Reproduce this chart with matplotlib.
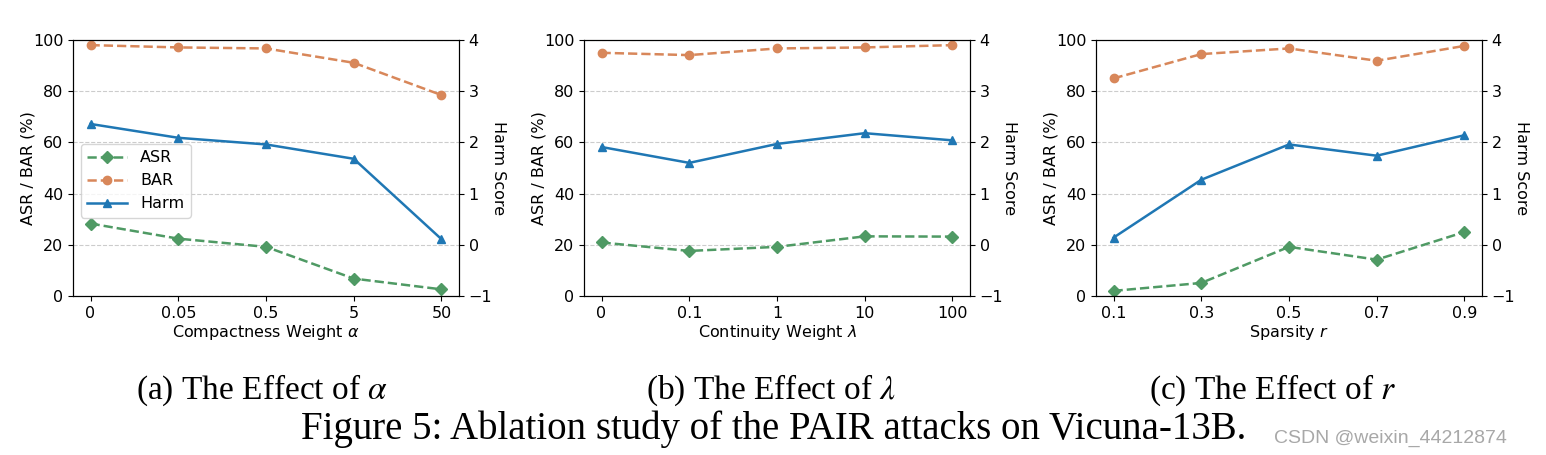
import matplotlib
matplotlib.use("Agg")
import matplotlib.pyplot as plt
import numpy as np

# ---- data ----
xticks_a = ["0", "0.05", "0.5", "5", "50"]
xticks_b = ["0", "0.1", "1", "10", "100"]
xticks_c = ["0.1", "0.3", "0.5", "0.7", "0.9"]

asr_a = [28.3, 22.4, 19.2, 6.8, 2.6]
bar_a = [98.0, 97.1, 96.7, 91.1, 78.5]
harm_a = [2.36, 2.09, 1.96, 1.68, 0.11]

asr_b = [20.9, 17.6, 19.2, 23.3, 23.2]
bar_b = [95.0, 94.1, 96.7, 97.1, 98.0]
harm_b = [1.91, 1.60, 1.97, 2.18, 2.04]

asr_c = [2.0, 5.1, 19.2, 14.2, 25.0]
bar_c = [85.0, 94.5, 96.7, 91.9, 97.7]
harm_c = [0.14, 1.27, 1.96, 1.74, 2.14]

xlabels = [r"Compactness Weight $\alpha$", r"Continuity Weight $\lambda$", r"Sparsity $r$"]
subcaps = [r"(a) The Effect of $\alpha$", r"(b) The Effect of $\lambda$", r"(c) The Effect of $r$"]
caption = "Figure 5: Ablation study of the PAIR attacks on Vicuna-13B."

panels = [
    (xticks_a, asr_a, bar_a, harm_a),
    (xticks_b, asr_b, bar_b, harm_b),
    (xticks_c, asr_c, bar_c, harm_c),
]

c_asr = "#4f9a64"
c_bar = "#d8875a"
c_harm = "#1f77b4"

W, H = 1546, 455
fig = plt.figure(figsize=(W / 100, H / 100), dpi=100)
plt.rcParams["mathtext.fontset"] = "dejavusans"

lefts = [73, 584, 1096]
ax_w = 386
ax_top = 40
ax_bot = 296
cap_centers = [262, 771, 1273]

fs = 11.5
for i, (ticks, asr, bar, harm) in enumerate(panels):
    ax = fig.add_axes([lefts[i] / W, 1 - ax_bot / H, ax_w / W, (ax_bot - ax_top) / H])
    x = np.arange(len(ticks))
    l1, = ax.plot(x, asr, ls="--", marker="D", color=c_asr, lw=1.8, ms=6, label="ASR")
    l2, = ax.plot(x, bar, ls="--", marker="o", color=c_bar, lw=1.8, ms=6, label="BAR")
    ax.set_ylim(0, 100)
    ax.set_yticks([0, 20, 40, 60, 80, 100])
    ax.set_xticks(x)
    ax.set_xticklabels(ticks)
    ax.set_xlim(-0.2, 4.2)
    ax.grid(axis="y", ls="--", color="#cccccc", lw=0.8)
    ax.set_axisbelow(True)
    ax.tick_params(labelsize=fs)
    ax.set_ylabel("ASR / BAR (%)", fontsize=fs, labelpad=-2)
    ax.set_xlabel(xlabels[i], fontsize=fs, labelpad=2)

    ax2 = ax.twinx()
    l3, = ax2.plot(x, harm, ls="-", marker="^", color=c_harm, lw=1.8, ms=6, label="Harm")
    ax2.set_ylim(-1, 4)
    ax2.set_yticks([-1, 0, 1, 2, 3, 4])
    ax2.tick_params(labelsize=fs)
    ax2.set_ylabel("Harm Score", fontsize=fs, rotation=270, labelpad=10)

    if i == 0:
        ax.legend(handles=[l1, l2, l3], loc="center left", bbox_to_anchor=(0.0, 0.45),
                  fontsize=fs, handlelength=2.5)

    fig.text(cap_centers[i] / W, 1 - 399 / H, subcaps[i], ha="center", va="baseline",
             fontsize=24, family="Liberation Serif", math_fontfamily="stix")

fig.text(774 / W, 1 - 439 / H, caption, ha="center", va="baseline",
         fontsize=28, family="Liberation Serif")
fig.text(1507 / W, 1 - 443 / H, "CSDN @weixin_44212874", ha="right", va="baseline",
         fontsize=14, color="#a8a8a8", family="Liberation Sans")

fig.savefig("out.png", dpi=100)
